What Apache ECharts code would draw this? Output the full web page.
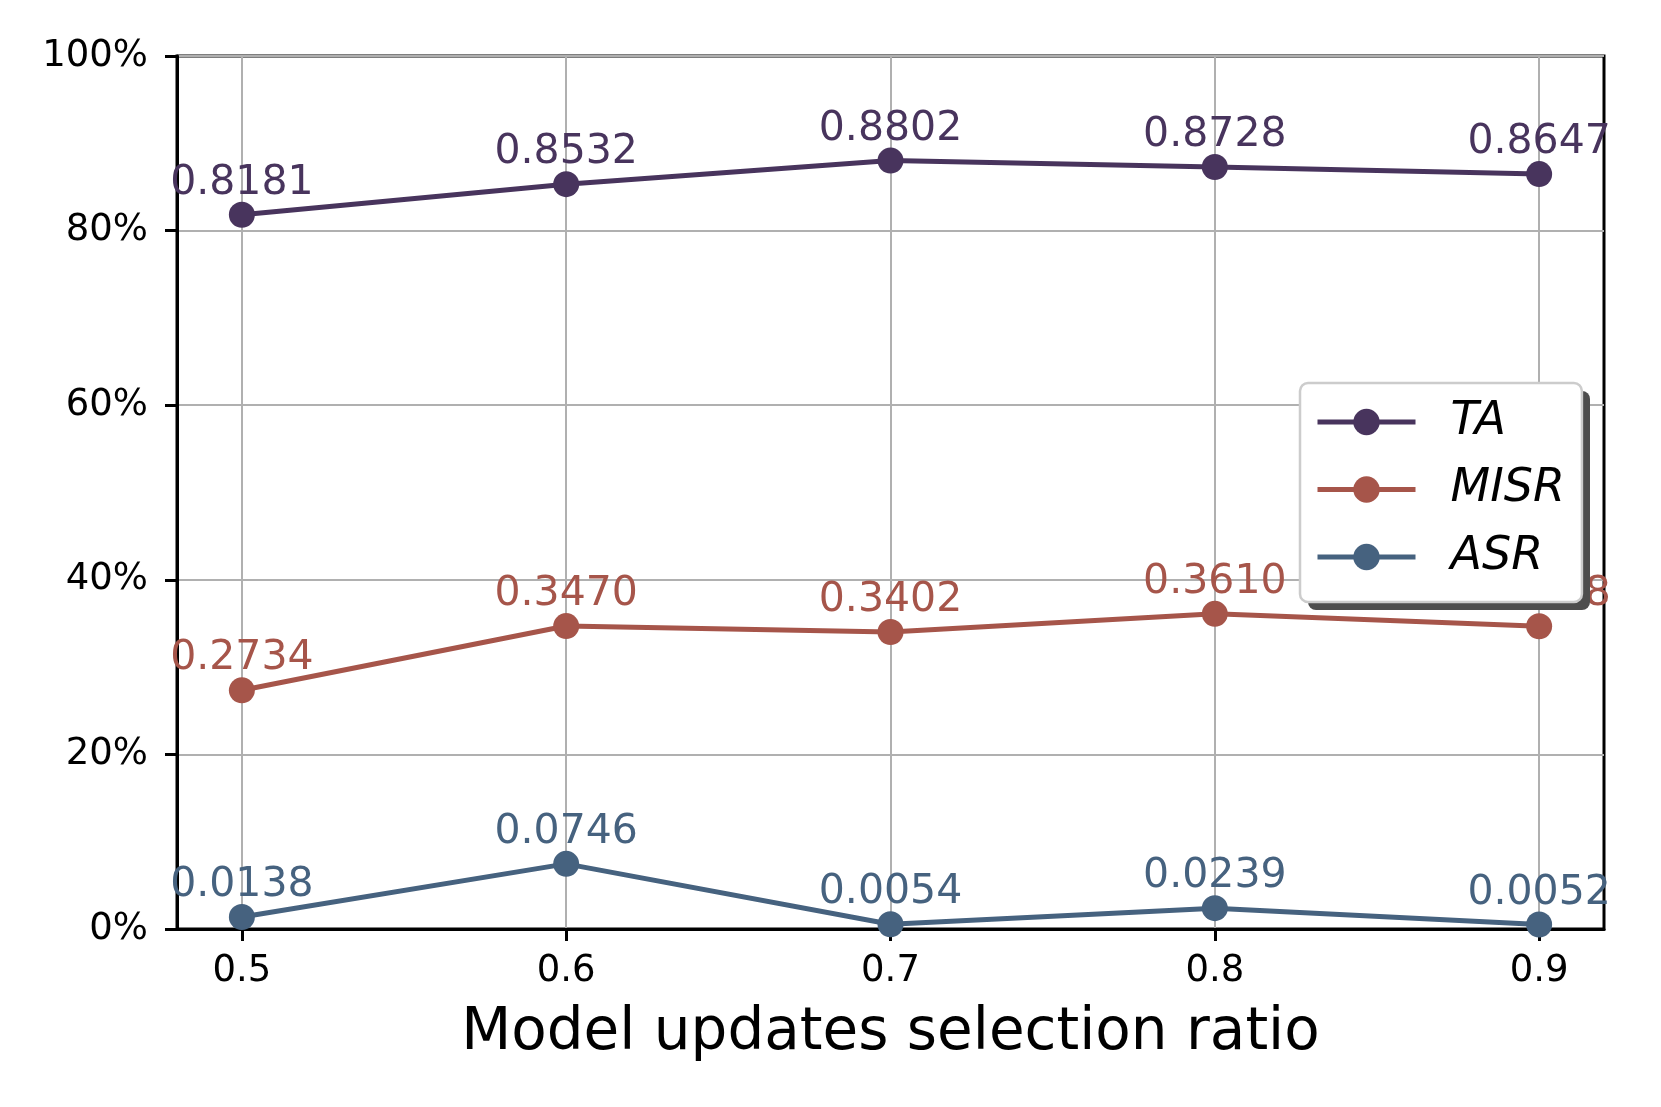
<!DOCTYPE html>
<html>
<head>
<meta charset="utf-8">
<script src="https://cdn.jsdelivr.net/npm/echarts@6/dist/echarts.min.js"></script>
<style>
html,body{margin:0;padding:0;background:#fff;}
#chart{width:1661px;height:1107px;}
</style>
</head>
<body>
<div id="chart"></div>
<script>
const ratios = [0.5, 0.6, 0.7, 0.8, 0.9];
const TA = [0.8181, 0.8532, 0.8802, 0.8728, 0.8647];
const MISR = [0.2734, 0.3470, 0.3402, 0.3610, 0.3468];
const ASR = [0.0138, 0.0746, 0.0054, 0.0239, 0.0052];
const seriesNames = ['TA', 'MISR', 'ASR'];
const colors = ['#48345d', '#a6554a', '#46627f'];

const FONT = 'DejaVu Sans';
const chart = echarts.init(document.getElementById('chart'), null, {renderer: 'canvas'});

function mk(name, vals, color) {
  return {
    name: name,
    type: 'line',
    data: ratios.map((x, i) => [x, vals[i]]),
    symbol: 'circle',
    symbolSize: 26,
    lineStyle: {color: color, width: 5},
    itemStyle: {color: color},
    z: 3,
    label: {
      show: true,
      position: 'top',
      distance: -2,
      color: color,
      fontFamily: FONT,
      fontSize: 41,
      formatter: p => p.value[1].toFixed(4)
    },
    emphasis: {disabled: true},
    animation: false
  };
}

chart.setOption({
  animation: false,
  grid: {
    left: 177, right: 57, top: 56, bottom: 178,
    show: true, borderColor: '#000', borderWidth: 3, backgroundColor: 'transparent'
  },
  graphic: [{
    type: 'rect',
    z: 9,
    silent: true,
    shape: {x: 1308, y: 391, width: 282, height: 219, r: 8},
    style: {fill: '#4d4d4d'}
  }],
  xAxis: {
    type: 'value',
    min: 0.48, max: 0.92,
    name: 'Model updates selection ratio',
    nameLocation: 'middle',
    nameGap: 76,
    nameTextStyle: {fontFamily: FONT, fontSize: 58, color: '#000'},
    axisLine: {show: true, onZero: false, lineStyle: {color: '#000', width: 3}},
    axisTick: {show: true, customValues: ratios, length: 12, lineStyle: {color: '#000', width: 3}},
    axisLabel: {customValues: ratios, margin: 24, fontFamily: FONT, fontSize: 37, color: '#000',
      formatter: v => v.toFixed(1)},
    splitLine: {show: true, lineStyle: {color: '#b0b0b0', width: 2}}
  },
  yAxis: {
    type: 'value',
    min: 0, max: 1, interval: 0.2,
    axisLine: {show: true, lineStyle: {color: '#000', width: 3}},
    axisTick: {show: true, length: 12, lineStyle: {color: '#000', width: 3}},
    axisLabel: {margin: 29, fontFamily: FONT, fontSize: 37, color: '#000',
      formatter: v => Math.round(v * 100) + '%'},
    splitLine: {show: true, lineStyle: {color: '#b0b0b0', width: 2}}
  },
  legend: {
    data: seriesNames,
    orient: 'vertical',
    left: 1300, top: 383,
    backgroundColor: '#fff',
    borderColor: '#cccccc',
    borderWidth: 2.5,
    borderRadius: 8,
    padding: [13, 17, 19, 15],
    itemWidth: 98,
    itemHeight: 33,
    itemGap: 15.5,
    selectedMode: false,
    z: 10,
    lineStyle: {width: 5},
    textStyle: {fontFamily: FONT, fontStyle: 'italic', fontSize: 46, lineHeight: 52, color: '#000',
      padding: [0, 0, 0, 30]}
  },
  series: [mk('TA', TA, colors[0]), mk('MISR', MISR, colors[1]), mk('ASR', ASR, colors[2])]
});
</script>
</body>
</html>
